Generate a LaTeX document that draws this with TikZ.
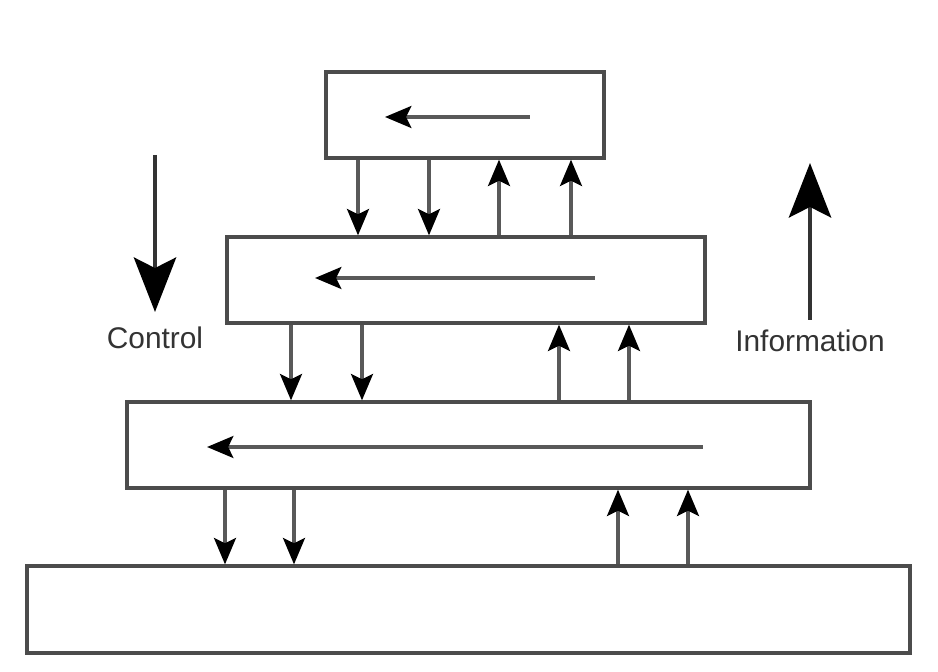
\documentclass[tikz,border=0pt]{standalone}
\usepackage{fontspec}
\setmainfont{Liberation Sans}
\usetikzlibrary{arrows.meta}
\begin{document}
\begin{tikzpicture}[x=0.02cm, y=-0.02cm,
		layer/.style={draw=black!70, line width=1.9pt, minimum height=1.72cm, inner sep=0pt},
		flow/.style={draw=black!65, line width=1.9pt, -{Stealth[length=15pt, width=12.5pt, inset=3pt, black]}},
		bigflow/.style={draw=black!80, line width=2.6pt, -{Stealth[length=31pt, width=24pt, inset=6pt, black]}},
		label/.style={font=\fontsize{17}{20}\selectfont, text=black!80}]
		\useasboundingbox (0,0) rectangle (938,672);
		\node[layer, minimum width=5.56cm] (b1) at (465,115){};
		\node[layer, minimum width=9.56cm] (b2) at (466,280){};
		\node[layer, minimum width=13.66cm] (b3) at (468.5,445){};
		\node[layer, minimum width=17.66cm, minimum height=1.74cm] (b4) at (468.5,609.5){};
		\draw[flow] ([xshift=1.3cm, yshift=-0.04cm]b1.center) -- ([xshift=-1.6cm, yshift=-0.04cm]b1.center);
		\draw[flow] ([xshift=2.58cm, yshift=0.04cm]b2.center) -- ([xshift=-3.02cm, yshift=0.04cm]b2.center);
		\draw[flow] ([xshift=4.69cm, yshift=-0.04cm]b3.center) -- ([xshift=-5.23cm, yshift=-0.04cm]b3.center);
		\foreach \x in {358,429} \draw[flow] (\x,0 |- b1.south) -- (\x,0 |- b2.north);
		\foreach \x in {499,571} \draw[flow] (\x,0 |- b2.north) -- (\x,0 |- b1.south);
		\foreach \x in {291,362} \draw[flow] (\x,0 |- b2.south) -- (\x,0 |- b3.north);
		\foreach \x in {559,629} \draw[flow] (\x,0 |- b3.north) -- (\x,0 |- b2.south);
		\foreach \x in {225,294} \draw[flow] (\x,0 |- b3.south) -- (\x,0 |- b4.north);
		\foreach \x in {618,688} \draw[flow] (\x,0 |- b4.north) -- (\x,0 |- b3.south);
		\node[label] (ctrl) at (155,338){Control};
		\node[label] (info) at (810,341){Information};
		\coordinate (ctop) at (155,155);
		\coordinate (cbot) at (155,312);
		\coordinate (ibot) at (810,320);
		\coordinate (itop) at (810,163);
		\draw[bigflow] (ctop) -- (cbot);
		\draw[bigflow] (ibot) -- (itop);
	\end{tikzpicture}
\end{document}
